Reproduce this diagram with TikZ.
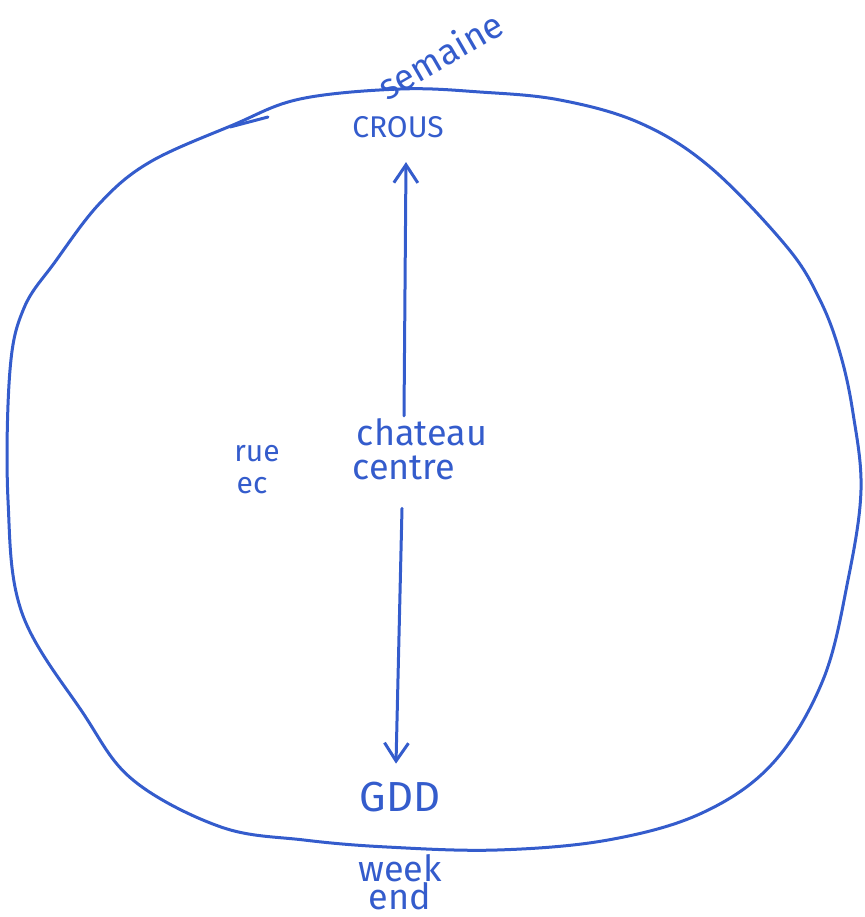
\documentclass[tikz,border=0pt]{standalone}
\usepackage{fontspec}
\setmainfont{Fira Sans}
\usetikzlibrary{arrows.meta}
\definecolor{penBlue}{RGB}{52,92,204}
\begin{document}
\begin{tikzpicture}[x=0.5pt,y=-0.5pt]
  \tikzstyle{pen}=[draw=penBlue,line width=1.5pt,line cap=round,line join=round]
  \tikzstyle{arrowPen}=[pen,-{Straight Barb[length=9pt,width=12pt,line width=1.5pt]}]
  \tikzstyle{word}=[text=penBlue,inner sep=1pt,font=\fontsize{18}{20}\selectfont]
  \tikzstyle{smallWord}=[word,font=\fontsize{15}{17}\selectfont]
  \tikzstyle{bigWord}=[word,font=\fontsize{21}{23}\selectfont]
  \useasboundingbox (0,0) rectangle (865,917);

  % the big circle
  \draw[pen] plot[smooth cycle,tension=0.6] coordinates {
    (400,89) (480,92) (560,100) (640,123) (710,167) (787,247) (820,300)
    (840,353) (853,413) (861,490) (848,580) (823,680) (773,763) (702,813)
    (608,840) (497,850) (387,847) (304,840) (221,827) (133,780) (83,713)
    (22,613) (8,500) (10,370) (24,308) (55,262) (100,203)
    (150,162) (233,125) (300,99)};
  \draw[pen] (230,127) -- (268,117);

  % labels
  \node[word,rotate=30](semaine) at (440,55) {semaine};
  \node[smallWord](crous) at (398,127) {CROUS};
  \node[word](chateau) at (422,432) {chateau};
  \node[word](centre) at (404,468) {centre};
  \node[smallWord](rue) at (257,454) {rue};
  \node[smallWord](ec) at (252,486) {ec};
  \node[bigWord](gdd) at (400,797) {GDD};
  \node[word](week) at (400,868) {week};
  \node[word](weekend) at (400,896) {end};

  % arrows
  \draw[arrowPen] ([xshift=-9pt]chateau.north) -- ([xshift=4pt,yshift=-11pt]crous.south);
  \draw[arrowPen] ([xshift=-1pt,yshift=-13pt]centre.south) -- ([xshift=-2pt,yshift=8pt]gdd.north);
\end{tikzpicture}
\end{document}
